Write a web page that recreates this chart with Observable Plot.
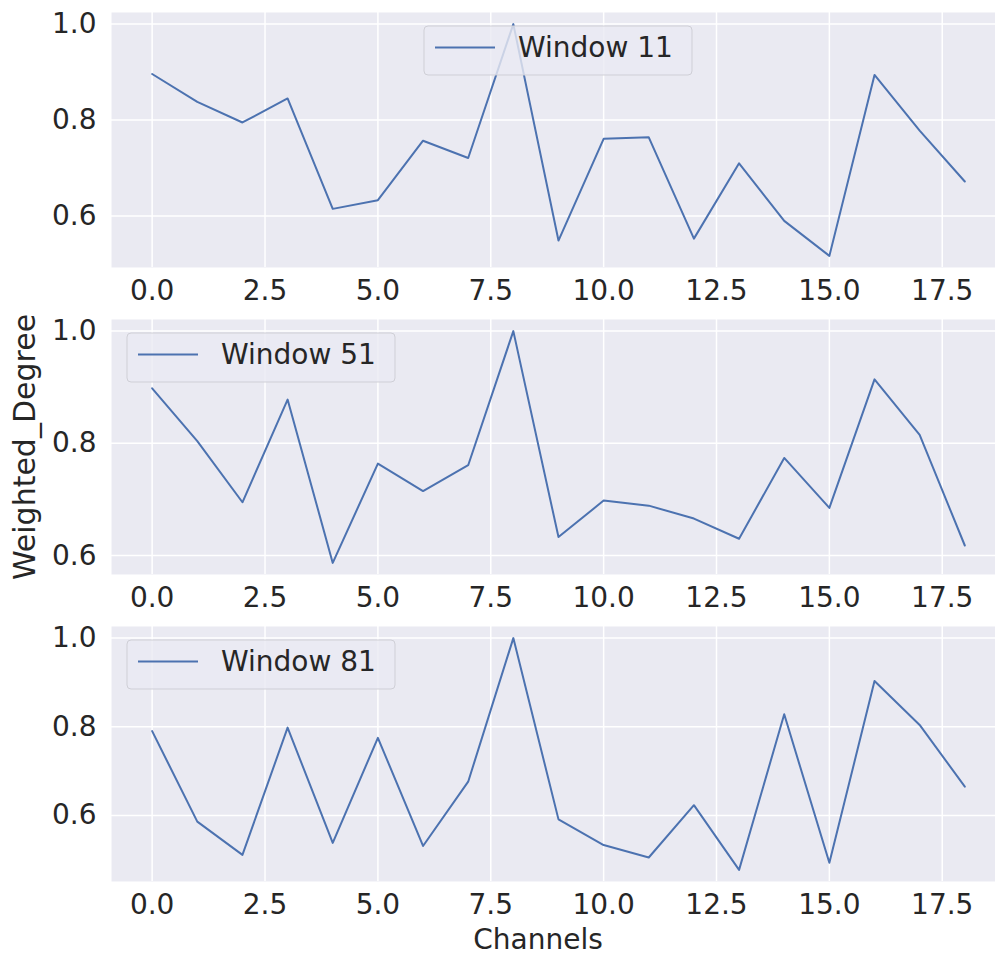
<!DOCTYPE html>
<html>
<head>
<meta charset="utf-8">
<script src="https://cdn.jsdelivr.net/npm/d3@7"></script>
<script src="https://cdn.jsdelivr.net/npm/@observablehq/plot@0.6"></script>
<style>
  html, body { margin: 0; padding: 0; background: #ffffff; }
  #fig { position: relative; width: 995px; height: 957px; overflow: hidden; background: #fff; font-family: "DejaVu Sans", sans-serif; }
  .panel { position: absolute; left: 0; }
  .legend { position: absolute; }
  #labels { position: absolute; left: 0; top: 0; }
</style>
</head>
<body>
<div id="fig"></div>
<script>
// ---- data ----
const channels = [0, 1, 2, 3, 4, 5, 6, 7, 8, 9, 10, 11, 12, 13, 14, 15, 16, 17, 18];
const window11 = [0.896, 0.838, 0.795, 0.845, 0.615, 0.633, 0.757, 0.721, 1.000, 0.549, 0.761, 0.764, 0.553, 0.710, 0.590, 0.517, 0.894, 0.778, 0.672];
const window51 = [0.898, 0.804, 0.695, 0.878, 0.587, 0.764, 0.715, 0.761, 1.000, 0.633, 0.698, 0.689, 0.666, 0.630, 0.774, 0.685, 0.914, 0.815, 0.618];
const window81 = [0.790, 0.586, 0.511, 0.798, 0.538, 0.775, 0.531, 0.676, 1.000, 0.591, 0.533, 0.505, 0.623, 0.477, 0.828, 0.493, 0.903, 0.804, 0.665];
const seriesNames = ["Window 11", "Window 51", "Window 81"];
const xTicks = [0, 2.5, 5, 7.5, 10, 12.5, 15, 17.5];
const yTicks = [0.6, 0.8, 1.0];
const xLabel = "Channels";
const yLabel = "Weighted_Degree";

const series = [window11, window51, window81];
const legendPos = ["center", "left", "left"];

const fig = document.getElementById("fig");
const LINE = "#4c72b0";
const BG = "#eaeaf2";
const TXT = "#262626";
const FONT = "DejaVu Sans";

const panelTops = [12, 319, 626];
const panelH = 255;
const marginLeft = 111, marginTop = 2, marginBottom = 45;
const pxPerUnit = 45.15;
const xDomain = [channels[0] - 0.9, channels[channels.length - 1] + 0.9];
const plotW = marginLeft + (xDomain[1] - xDomain[0]) * pxPerUnit;

series.forEach((vals, i) => {
  const data = channels.map((c, j) => ({ c, v: vals[j] }));
  const lo = d3.min(vals), hi = d3.max(vals), pad = (hi - lo) * 0.05;
  const chart = Plot.plot({
    width: plotW,
    height: marginTop + panelH + marginBottom,
    marginLeft, marginRight: 0, marginTop, marginBottom,
    style: { fontFamily: FONT, fontSize: "28px", color: TXT, background: "transparent", maxWidth: "none", overflow: "visible" },
    x: { domain: xDomain, ticks: xTicks, tickFormat: d3.format(".1f"), label: null },
    y: { domain: [lo - pad, hi + pad], ticks: yTicks, tickFormat: d3.format(".1f"), label: null },
    marks: [
      Plot.frame({ fill: BG, stroke: null }),
      Plot.gridX(xTicks, { stroke: "#ffffff", strokeOpacity: 1, strokeWidth: 1.5 }),
      Plot.gridY(yTicks, { stroke: "#ffffff", strokeOpacity: 1, strokeWidth: 1.5 }),
      Plot.line(data, { x: "c", y: "v", stroke: LINE, strokeWidth: 2 }),
      Plot.axisX(xTicks, { tickSize: 0, tickPadding: 13, tickFormat: d3.format(".1f"), fill: TXT, label: null }),
      Plot.axisY(yTicks, { tickSize: 0, tickPadding: 15, tickFormat: d3.format(".1f"), fill: TXT, label: null })
    ]
  });
  chart.classList.add("panel");
  chart.style.top = (panelTops[i] - marginTop) + "px";
  fig.appendChild(chart);

  // legend
  const lw = 268, lh = 49;
  const left = legendPos[i] === "center" ? (marginLeft + plotW) / 2 - lw / 2 : 126.5;
  const top = panelTops[i] + 14;
  const ns = "http://www.w3.org/2000/svg";
  const lg = document.createElementNS(ns, "svg");
  lg.setAttribute("width", lw + 2);
  lg.setAttribute("height", lh + 2);
  lg.setAttribute("class", "legend");
  lg.style.left = (left - 1) + "px";
  lg.style.top = (top - 1) + "px";
  const sel = d3.select(lg);
  sel.append("rect").attr("x", 1).attr("y", 1).attr("width", lw).attr("height", lh).attr("rx", 4)
    .attr("fill", BG).attr("fill-opacity", 0.8).attr("stroke", "#cfcfd6").attr("stroke-width", 1);
  sel.append("line").attr("x1", 12).attr("x2", 72).attr("y1", 22.5).attr("y2", 22.5)
    .attr("stroke", LINE).attr("stroke-width", 2);
  sel.append("text").attr("x", 95).attr("y", 32).attr("fill", TXT)
    .attr("font-family", FONT).attr("font-size", 28).text(seriesNames[i]);
  fig.appendChild(lg);
});

// axis labels
const lab = d3.select(fig).append("svg").attr("id", "labels").attr("width", 995).attr("height", 957)
  .style("pointer-events", "none");
lab.append("text").attr("transform", "translate(35,447) rotate(-90)").attr("text-anchor", "middle")
  .attr("fill", TXT).attr("font-family", FONT).attr("font-size", 30).text(yLabel);
lab.append("text").attr("x", 538).attr("y", 949).attr("text-anchor", "middle")
  .attr("fill", TXT).attr("font-family", FONT).attr("font-size", 28).text(xLabel);
</script>
</body>
</html>
